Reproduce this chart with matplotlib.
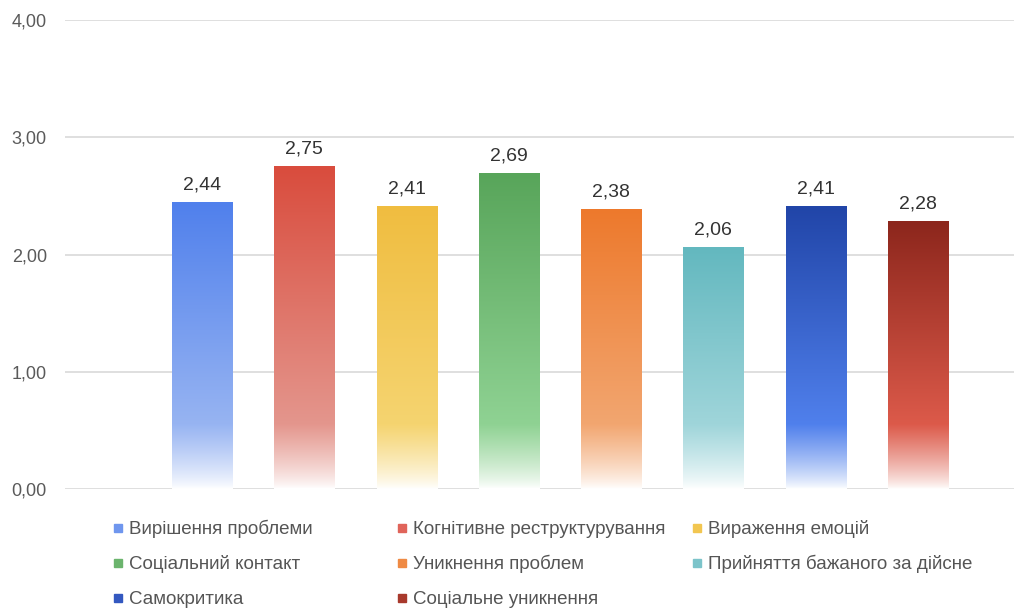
import numpy as np
import matplotlib
matplotlib.use("Agg")
import matplotlib.pyplot as plt
from matplotlib.colors import to_rgb
from matplotlib.patches import Rectangle

plt.rcParams['font.family'] = ['Liberation Sans', 'DejaVu Sans']

categories = [
    "Вирішення проблеми", "Когнітивне реструктурування", "Вираження емоцій",
    "Соціальний контакт", "Уникнення проблем", "Прийняття бажаного за дійсне",
    "Самокритика", "Соціальне уникнення",
]
values = [2.44, 2.75, 2.41, 2.69, 2.38, 2.06, 2.41, 2.28]
yticks = [0, 1, 2, 3, 4]

# кольори градієнта: верх, середина (біля 0.55), низ
top_colors = ["#5080ec", "#d94c3d", "#f0bd40", "#58a55a", "#ed792c", "#63b8bf", "#2145a8", "#8c261c"]
mid_colors = ["#97b4f2", "#e4968d", "#f5d470", "#8fd293", "#f2a670", "#9fd5da", "#5080ec", "#dc5a4a"]
legend_colors = ["#6f96ee", "#e0645a", "#f2c650", "#6bb46d", "#ef8a44", "#7cc4ca", "#3358c0", "#a8392c"]

Y_MID = 0.55


def gradient(top, mid, h, n=300):
    top, mid = np.array(to_rgb(top)), np.array(to_rgb(mid))
    bot = 0.92 * np.ones(3) + 0.08 * mid
    bot = np.clip(bot + 0.05, 0, 1)
    ys = np.linspace(0, h, n)
    rows = []
    for y in ys:
        if y >= Y_MID:
            t = (y - Y_MID) / (h - Y_MID)
            c = mid + (top - mid) * t
        else:
            t = y / Y_MID
            c = bot + (mid - bot) * t ** 0.8
        rows.append(c)
    return np.array(rows)[:, None, :]


fig = plt.figure(figsize=(10.14, 6.10), dpi=100)
ax = fig.add_axes([65 / 1014, 121 / 610, 949 / 1014, 469 / 610])

x = np.arange(len(values))
w = 0.587
for i, v in enumerate(values):
    img = gradient(top_colors[i], mid_colors[i], v)
    ax.imshow(img, extent=[x[i] - w / 2, x[i] + w / 2, 0, v], origin='lower',
              aspect='auto', interpolation='bilinear', zorder=2)
    ax.text(x[i], v + 0.08, f"{v:.2f}".replace(".", ","), ha='center', va='bottom',
            fontsize=14, color='#333333', zorder=3)

ax.set_xlim(-1.34, 7.94)
ax.set_ylim(0, 4)
ax.set_yticks(yticks)
ax.set_yticklabels([f"{t:.2f}".replace(".", ",") for t in yticks], fontsize=13, color='#5a5a5a')
ax.tick_params(axis='y', length=0, pad=13)
ax.set_xticks([])
for s in ax.spines.values():
    s.set_visible(False)
ax.grid(axis='y', color='#d9d9d9', linewidth=1.2, zorder=0)
ax.set_axisbelow(True)

# легенда у три колонки
col_x = [118, 402, 697]
row_y = [528, 563, 598]
for i, name in enumerate(categories):
    cx = col_x[i % 3]
    cy = row_y[i // 3]
    fig.patches.append(Rectangle(((cx - 4) / 1014, 1 - (cy + 4) / 610), 8 / 1014, 8 / 610,
                                 transform=fig.transFigure, color=legend_colors[i]))
    fig.text((cx + 11) / 1014, 1 - (cy + 1) / 610, name, fontsize=13.5, color='#555555',
             va='center', ha='left')

fig.savefig("out.png", dpi=100, facecolor='white')
